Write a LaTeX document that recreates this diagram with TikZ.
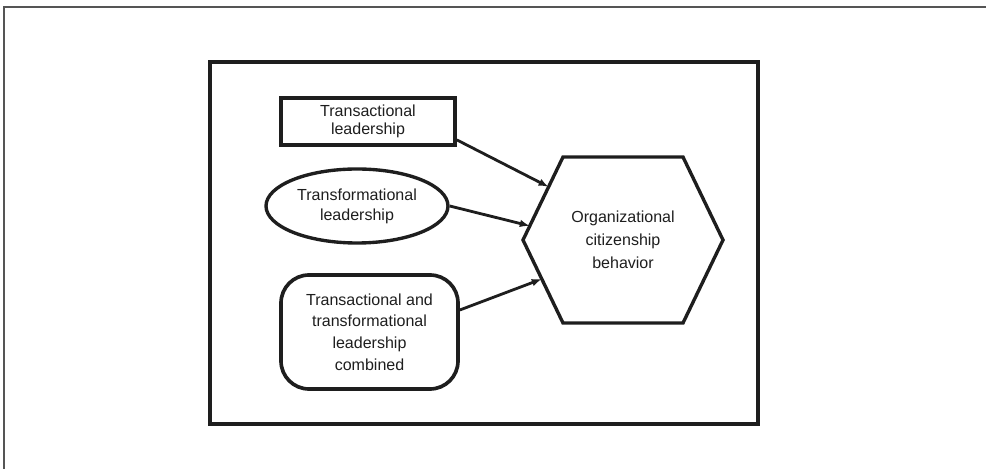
\documentclass[tikz,border=0pt]{standalone}
\usepackage{fontspec}
\setmainfont{Liberation Sans}
\usetikzlibrary{arrows.meta, positioning, shapes, calc}
\definecolor{ink}{HTML}{1E1E1E}
\definecolor{frame}{HTML}{555555}

\begin{document}
\begin{tikzpicture}[
        >={Latex[length=0.25cm, width=0.19cm]},
        every node/.style={text=ink, align=center},
        item/.style={draw=ink, line width=2.6pt, inner sep=0pt},
        arr/.style={->, draw=ink, line width=2pt},
    ]
    \useasboundingbox (0,0) rectangle (24.65,11.725);
    \draw[frame, line width=0.8pt] (0.1,0) -- (0.1,11.55) -- (24.65,11.55);
    \draw[ink, line width=2.8pt] (5.25,1.125) rectangle (18.95,10.175);
    \node[item, rectangle, minimum width=4.35cm, minimum height=1.175cm,
          font=\fontsize{11.4}{13}\selectfont] (trl) at (9.2,8.6875)
        {Transactional\\leadership};
    \node[item, ellipse, line width=2.4pt, minimum width=4.55cm, minimum height=1.85cm,
          font=\fontsize{11.4}{14.2}\selectfont] (tfl) at (8.925,6.575)
        {Transformational\\leadership};
    \node[item, rectangle, rounded corners=0.7cm, minimum width=4.425cm, minimum height=2.85cm,
          font=\fontsize{11.4}{15.4}\selectfont] (comb) at (9.2375,3.425)
        {Transactional and\\transformational\\leadership\\combined};
    \node[minimum width=5cm, minimum height=4.15cm, inner sep=0pt, outer sep=0pt,
          font=\fontsize{11.4}{16.3}\selectfont] (ocb) at (15.575,5.725)
        {Organizational\\citizenship\\behavior};
    \coordinate (ocb nw) at ([xshift=1cm]ocb.north west);
    \coordinate (ocb ne) at ([xshift=-1cm]ocb.north east);
    \coordinate (ocb se) at ([xshift=-1cm]ocb.south east);
    \coordinate (ocb sw) at ([xshift=1cm]ocb.south west);
    \draw[ink, line width=2.4pt, line join=miter]
        (ocb.west) -- (ocb nw) -- (ocb ne) -- (ocb.east) -- (ocb se) -- (ocb sw) -- cycle;
    \draw[arr] ([yshift=-0.46cm]trl.east) -- ($(ocb.west)!0.64!(ocb nw)$);
    \draw[arr] (tfl.east) -- ($(ocb.west)!0.17!(ocb nw)$);
    \draw[arr] ([yshift=0.55cm]comb.east) -- ($(ocb.west)!0.47!(ocb sw)$);
\end{tikzpicture}
\end{document}
